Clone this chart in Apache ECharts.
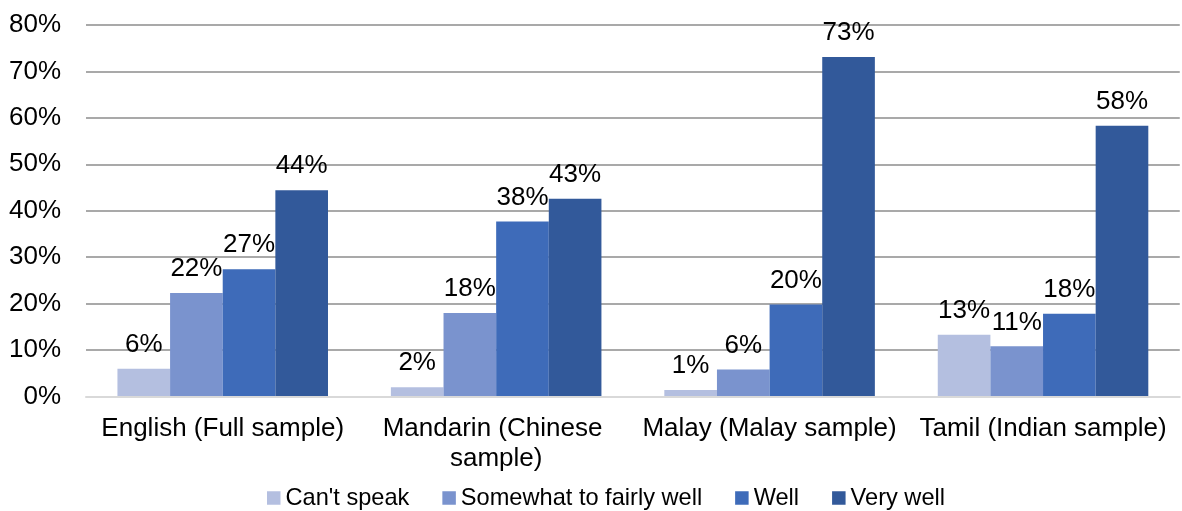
<!DOCTYPE html>
<html>
<head>
<meta charset="utf-8">
<script src="https://cdn.jsdelivr.net/npm/echarts@6/dist/echarts.min.js"></script>
<style>
  html, body { margin: 0; padding: 0; background: #fff; }
  #chart { width: 1182px; height: 511px; }
</style>
</head>
<body>
<div id="chart"></div>
<script>
// categories and series values (percent)
const categories = ['English (Full sample)', 'Mandarin (Chinese sample)', 'Malay (Malay sample)', 'Tamil (Indian sample)']
const cantSpeak = [6.0, 2.0, 1.4, 13.3]
const somewhatWell = [22.3, 18.0, 5.8, 10.8]
const well = [27.4, 37.7, 19.8, 17.8]
const veryWell = [44.4, 42.6, 73.1, 58.3]
const yTicks = [0, 10, 20, 30, 40, 50, 60, 70, 80]

const font = "'Liberation Sans', Arial, sans-serif"
const colors = ['#b4bfe0', '#7a93ce', '#3e6bb9', '#32599a']

// 一个系列的配置
function makeSeries(name, data, color) {
    return {
        name: name,
        type: 'bar',
        data: data,
        barGap: 0,
        barCategoryGap: '23%',
        itemStyle: { color: color },
        label: {
            show: true,
            position: 'top',
            distance: 11,
            color: '#000',
            fontSize: 26,
            fontFamily: font,
            formatter: function (p) { return Math.round(p.value) + '%' }
        }
    }
}

const chart = echarts.init(document.getElementById('chart'), null, { renderer: 'canvas' })
chart.setOption({
    animation: false,
    textStyle: { fontFamily: font },
    grid: { left: 86, right: 2, top: 25, bottom: 114.5, containLabel: false },
    legend: {
        left: 262,
        top: 481,
        itemWidth: 13.5,
        itemHeight: 13.5,
        itemGap: 33,
        icon: 'rect',
        textStyle: { fontSize: 23.6, color: '#000', fontFamily: font },
        data: ["Can't speak", 'Somewhat to fairly well', 'Well', 'Very well']
    },
    xAxis: {
        type: 'category',
        data: categories,
        z: 5,
        axisLine: { show: true, lineStyle: { color: '#d9d9d9', width: 2 } },
        axisTick: { show: false },
        axisLabel: {
            interval: 0,
            margin: 17,
            color: '#000',
            fontSize: 26,
            lineHeight: 30,
            fontFamily: font,
            width: 272,
            overflow: 'break'
        }
    },
    yAxis: {
        type: 'value',
        min: yTicks[0],
        max: yTicks[yTicks.length - 1],
        interval: 10,
        axisLine: { show: false },
        axisTick: { show: false },
        splitLine: { lineStyle: { color: '#8c8c8c', width: 1.5 } },
        axisLabel: {
            margin: 25,
            color: '#000',
            fontSize: 26,
            fontFamily: font,
            formatter: '{value}%'
        }
    },
    series: [
        makeSeries("Can't speak", cantSpeak, colors[0]),
        makeSeries('Somewhat to fairly well', somewhatWell, colors[1]),
        makeSeries('Well', well, colors[2]),
        makeSeries('Very well', veryWell, colors[3])
    ]
})
</script>
</body>
</html>
